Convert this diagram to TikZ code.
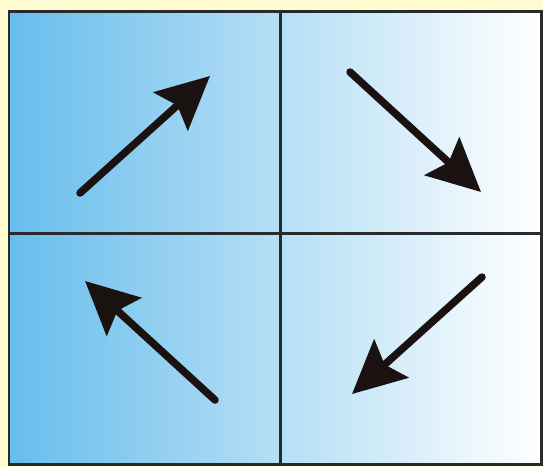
\documentclass[tikz,border=0pt]{standalone}
\usetikzlibrary{arrows.meta}

\definecolor{paper}{RGB}{255,252,210}
\definecolor{skyblue}{RGB}{104,189,236}
\definecolor{frame}{RGB}{40,42,44}
\definecolor{ink}{RGB}{26,18,16}

\begin{document}
\begin{tikzpicture}[
		x=0.02cm, y=-0.02cm,
		grid/.style={draw=frame, line width=0.06cm},
		arrow/.style={-{Stealth[length=30pt, width=29pt, inset=5pt]}, line width=0.15cm, line cap=round, draw=ink}
	]

	% Background
	\fill[paper] (0,0) rectangle (543,467);
	\useasboundingbox (0,0) rectangle (543,467);

	% Panel
	\shade[left color=skyblue, right color=white] (9,11) rectangle (541,464);
	\draw[grid] (280,11) -- (280,464);
	\draw[grid] (9,233) -- (541,233);
	\draw[grid] (9,11) rectangle (541,464);

	% Arrow ends
	\coordinate (a1) at (80,193);
	\coordinate (b1) at (210,76);
	\coordinate (a2) at (350,72);
	\coordinate (b2) at (481,192);
	\coordinate (a3) at (215,400);
	\coordinate (b3) at (85,281);
	\coordinate (a4) at (482,277);
	\coordinate (b4) at (352,394);

	% Arrows
	\draw[arrow] (a1) -- (b1);
	\draw[arrow] (a2) -- (b2);
	\draw[arrow] (a3) -- (b3);
	\draw[arrow] (a4) -- (b4);

\end{tikzpicture}
\end{document}
